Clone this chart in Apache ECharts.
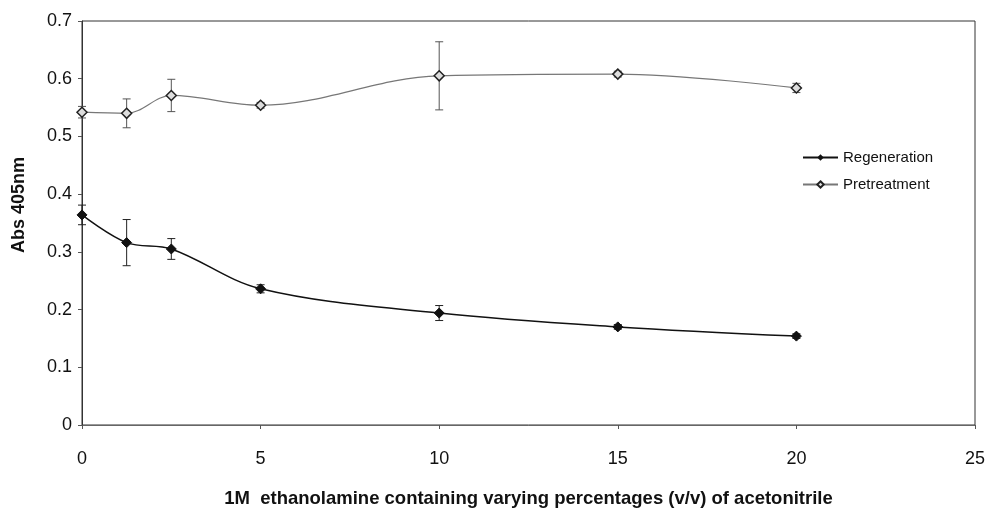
<!DOCTYPE html>
<html>
<head>
<meta charset="utf-8">
<script src="https://cdn.jsdelivr.net/npm/echarts@6/dist/echarts.min.js"></script>
<style>
  html, body { margin: 0; padding: 0; background: #fff; }
  #chart { width: 987px; height: 508px; }
</style>
</head>
<body>
<div id="chart"></div>
<script>
    // x 值 (% acetonitrile)
    const xValues = [0, 1.25, 2.5, 5, 10, 15, 20]
    const regeneration = [0.364, 0.316, 0.305, 0.236, 0.194, 0.170, 0.154]
    const regenerationErr = [0.017, 0.040, 0.018, 0.007, 0.013, 0.004, 0.004]
    const pretreatment = [0.542, 0.540, 0.571, 0.554, 0.605, 0.608, 0.584]
    const pretreatmentErr = [0.010, 0.025, 0.028, 0.005, 0.059, 0.005, 0.008]
    const seriesNames = ['Regeneration', 'Pretreatment']

    const font = 'Liberation Sans, Arial, sans-serif'

    function errorSeries(values, errs, color) {
        return {
            type: 'custom',
            silent: true,
            z: 1,
            renderItem(params, api) {
                const x = api.value(0)
                const lo = api.coord([x, api.value(1)])
                const hi = api.coord([x, api.value(2)])
                const cap = 4
                const style = { stroke: color, lineWidth: 1 }
                return {
                    type: 'group',
                    children: [
                        { type: 'line', shape: { x1: lo[0], y1: lo[1], x2: hi[0], y2: hi[1] }, style },
                        { type: 'line', shape: { x1: lo[0] - cap, y1: lo[1], x2: lo[0] + cap, y2: lo[1] }, style },
                        { type: 'line', shape: { x1: hi[0] - cap, y1: hi[1], x2: hi[0] + cap, y2: hi[1] }, style }
                    ]
                }
            },
            data: xValues.map((x, i) => [x, values[i] - errs[i], values[i] + errs[i]])
        }
    }

    const chart = echarts.init(document.getElementById('chart'))
    const option = {
        animation: false,
        textStyle: { fontFamily: font },
        grid: {
            left: 82,
            right: 12,
            top: 21,
            bottom: 83,
            outerBoundsMode: 'none',
            show: true,
            borderColor: '#333',
            borderWidth: 1
        },
        legend: {
            orient: 'vertical',
            left: 797,
            top: 145,
            itemWidth: 35,
            itemHeight: 8,
            itemGap: 12,
            textStyle: { fontSize: 15, color: '#111', fontFamily: font },
            data: seriesNames
        },
        // x 轴
        xAxis: {
            type: 'value',
            min: 0,
            max: 25,
            interval: 5,
            name: '1M  ethanolamine containing varying percentages (v/v) of acetonitrile',
            nameLocation: 'middle',
            nameGap: 64,
            nameTextStyle: { fontSize: 18.5, color: '#111', fontWeight: 'bold', fontFamily: font },
            axisLine: { show: true, lineStyle: { color: '#666' } },
            axisTick: { show: true, length: 4, lineStyle: { color: '#555' } },
            axisLabel: { color: '#111', fontSize: 18, margin: 25 },
            splitLine: { show: false }
        },
        // y 轴
        yAxis: {
            type: 'value',
            min: 0,
            max: 0.7,
            interval: 0.1,
            name: 'Abs 405nm',
            nameLocation: 'middle',
            nameGap: 54,
            nameTextStyle: { fontSize: 18, color: '#111', fontWeight: 'bold', fontFamily: font, padding: [0, 0, 0, 36] },
            axisLine: { show: true, lineStyle: { color: '#333' } },
            axisTick: { show: true, length: 4, lineStyle: { color: '#555' } },
            axisLabel: { color: '#111', fontSize: 18, margin: 10, formatter: v => String(+v.toFixed(1)) },
            splitLine: { show: false }
        },
        series: [
            errorSeries(regeneration, regenerationErr, '#222'),
            errorSeries(pretreatment, pretreatmentErr, '#555'),
            {
                name: 'Regeneration',
                type: 'line',
                smooth: 0.35,
                symbol: 'diamond',
                symbolSize: 10,
                z: 3,
                lineStyle: { color: '#111', width: 1.5 },
                itemStyle: { color: '#111', borderColor: '#111' },
                data: xValues.map((x, i) => [x, regeneration[i]])
            },
            {
                name: 'Pretreatment',
                type: 'line',
                smooth: 0.35,
                symbol: 'diamond',
                symbolSize: 10,
                z: 3,
                lineStyle: { color: '#777', width: 1.2 },
                itemStyle: { color: '#ddd', borderColor: '#222', borderWidth: 1.5 },
                data: xValues.map((x, i) => [x, pretreatment[i]])
            }
        ]
    }
    chart.setOption(option)
    window.addEventListener('resize', function() {
        chart.resize()
    })
</script>
</body>
</html>
